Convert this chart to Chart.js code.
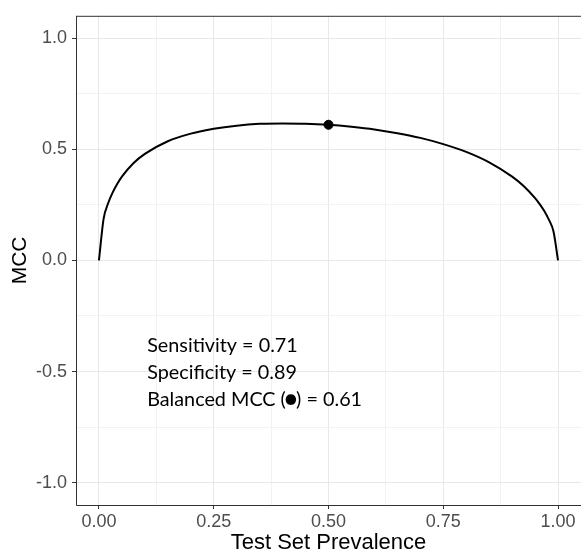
<!DOCTYPE html>
<html>
<head>
<meta charset="utf-8">
<script src="https://cdn.jsdelivr.net/npm/chart.js@4.4.1/dist/chart.umd.min.js"></script>
<style>
    html, body { margin: 0; padding: 0; background: #fff; }
</style>
</head>
<body>
<canvas id="mcc-chart" width="581" height="552"></canvas>
<script>
// values
const prevalence = [0, 0.01, 0.02, 0.03, 0.04, 0.05, 0.075, 0.1, 0.15, 0.2, 0.25, 0.3, 0.35, 0.4, 0.45, 0.5,
    0.55, 0.6, 0.65, 0.7, 0.75, 0.8, 0.85, 0.9, 0.925, 0.95, 0.96, 0.97, 0.98, 0.99, 1];
const mcc = [0, 0.186, 0.257, 0.306, 0.345, 0.377, 0.437, 0.479, 0.536, 0.570, 0.592, 0.606, 0.614, 0.616, 0.615, 0.610,
    0.601, 0.589, 0.572, 0.551, 0.523, 0.488, 0.441, 0.377, 0.335, 0.280, 0.253, 0.222, 0.183, 0.131, 0];
const balancedX = [0.5];
const balancedY = [0.61];
const xTicks = [0, 0.25, 0.5, 0.75, 1];
const yTicks = [-1, -0.5, 0, 0.5, 1];
// last line is split round the bullet so the bullet can be drawn bigger
const notes = [['Sensitivity = 0.71'], ['Specificity = 0.89'], ['Balanced MCC (', '\u2022', ') = 0.61']];

const isMajor = (list, v) => list.some(t => Math.abs(t - v) < 1e-6);
const withMinor = (list) => {
    const out = [];
    for (let i = 0; i < list.length; i++) {
        out.push(list[i]);
        if (i < list.length - 1) out.push((list[i] + list[i + 1]) / 2);
    }
    return out;
};

Chart.defaults.font.family = "'Liberation Sans', Arial, sans-serif";

const textFont = "19.8px Lato, 'Open Sans', sans-serif";
const bulletFont = "28px Lato, 'Open Sans', sans-serif";

// panel border + text block
const panelPlugin = {
    id: 'panel',
    afterDatasetsDraw(chart) {
        const { ctx, scales } = chart;
        ctx.save();
        ctx.fillStyle = '#000';
        ctx.textBaseline = 'alphabetic';
        const x0 = scales.x.getPixelForValue(0.105);
        const y0 = scales.y.getPixelForValue(-0.41);
        notes.forEach((parts, i) => {
            let x = x0;
            parts.forEach((t, j) => {
                const isBullet = j === 1;
                ctx.font = isBullet ? bulletFont : textFont;
                const w = ctx.measureText(t).width;
                if (isBullet) {
                    // squeeze the bullet's side bearings
                    ctx.fillText(t, x - 3, y0 + i * 27 + 2);
                    x += w - 6;
                } else {
                    ctx.fillText(t, x, y0 + i * 27);
                    x += w;
                }
            });
        });
        ctx.restore();
    },
    afterDraw(chart) {
        const { ctx, chartArea: a } = chart;
        ctx.save();
        ctx.strokeStyle = '#333';
        ctx.lineWidth = 1;
        ctx.beginPath();
        ctx.moveTo(a.left + 0.5, a.top + 0.5);
        ctx.lineTo(a.right + 2, a.top + 0.5);
        ctx.moveTo(a.left + 0.5, a.top);
        ctx.lineTo(a.left + 0.5, a.bottom + 0.5);
        ctx.lineTo(a.right + 2, a.bottom + 0.5);
        ctx.stroke();
        ctx.restore();
    }
};

const gridColor = (list) => (c) => isMajor(list, c.tick.value) ? '#e8e8e8' : '#f2f2f2';
const tickColor = (list) => (c) => isMajor(list, c.tick.value) ? '#333' : 'rgba(0,0,0,0)';

new Chart(document.getElementById('mcc-chart'), {
    type: 'scatter',
    data: {
        datasets: [{
            data: prevalence.map((p, i) => ({ x: p, y: mcc[i] })),
            showLine: true,
            borderColor: '#000',
            borderWidth: 2,
            pointRadius: 0,
            cubicInterpolationMode: 'monotone',
            order: 2
        }, {
            data: balancedX.map((p, i) => ({ x: p, y: balancedY[i] })),
            pointRadius: 4.5,
            backgroundColor: '#000',
            borderColor: '#000',
            order: 1
        }]
    },
    options: {
        responsive: false,
        animation: false,
        layout: { autoPadding: false, padding: { top: 15, left: 0, right: 0, bottom: 0 } },
        plugins: {
            legend: { display: false },
            tooltip: { enabled: false }
        },
        scales: {
            x: {
                type: 'linear',
                min: -0.05,
                max: 1.05,
                afterBuildTicks: (s) => { s.ticks = withMinor(xTicks).map(v => ({ value: v })); },
                afterFit: (s) => { s.height = 47; },
                border: { display: false },
                grid: { color: gridColor(xTicks), tickColor: tickColor(xTicks), tickLength: 4, lineWidth: 1 },
                ticks: {
                    autoSkip: false,
                    maxRotation: 0,
                    padding: 2,
                    color: '#4d4d4d',
                    font: { size: 18 },
                    callback: (v) => isMajor(xTicks, v) ? v.toFixed(2) : ''
                },
                title: {
                    display: true,
                    text: 'Test Set Prevalence',
                    color: '#000',
                    font: { size: 22, lineHeight: 0.85 },
                    padding: { top: 0, bottom: 0 }
                }
            },
            y: {
                type: 'linear',
                min: -1.1,
                max: 1.1,
                afterBuildTicks: (s) => { s.ticks = withMinor(yTicks).map(v => ({ value: v })); },
                afterFit: (s) => { s.width = 76; },
                border: { display: false },
                grid: { color: gridColor(yTicks), tickColor: tickColor(yTicks), tickLength: 4, lineWidth: 1 },
                ticks: {
                    autoSkip: false,
                    padding: 5,
                    color: '#4d4d4d',
                    font: { size: 18 },
                    callback: (v) => isMajor(yTicks, v) ? v.toFixed(1) : ''
                },
                title: {
                    display: true,
                    text: 'MCC',
                    color: '#000',
                    font: { size: 21, lineHeight: 1 },
                    padding: { top: 10, bottom: 0 }
                }
            }
        }
    },
    plugins: [panelPlugin]
});
</script>
</body>
</html>
